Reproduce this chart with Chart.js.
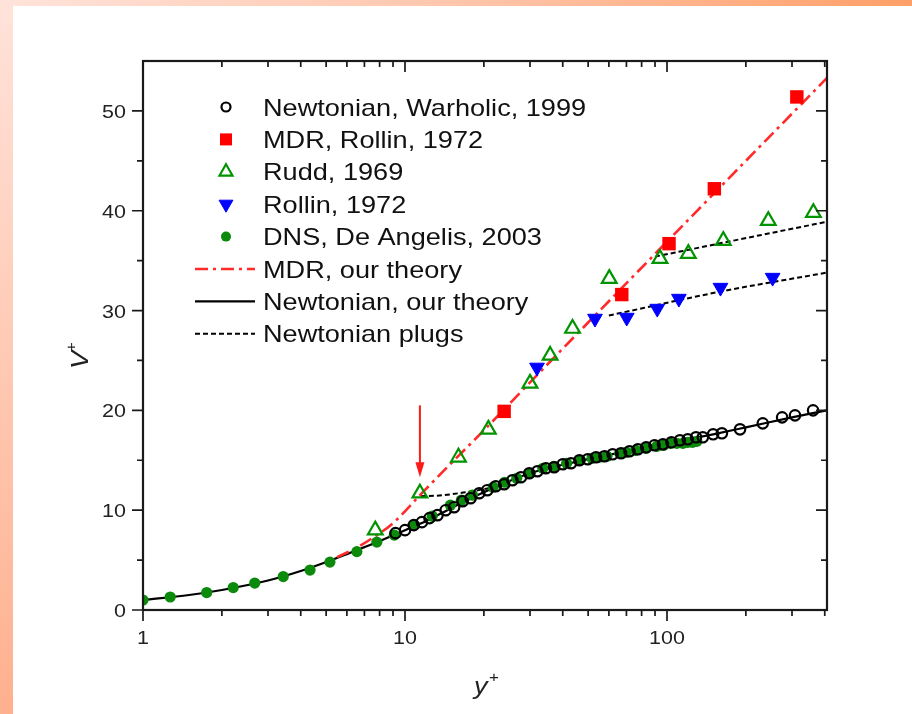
<!DOCTYPE html>
<html>
<head>
<meta charset="utf-8">
<script src="https://cdn.jsdelivr.net/npm/chart.js@4.4.1/dist/chart.umd.min.js"></script>
<style>
  html, body { margin: 0; padding: 0; background: #fff; }
  #wrap { position: relative; width: 912px; height: 714px; overflow: hidden; background: #fff; }
  #topband { position: absolute; left: 0; top: 0; width: 912px; height: 6px;
    background: linear-gradient(to right, #ffe3da, #ffc6ac 50%, #ff9f68); }
  #leftband { position: absolute; left: 0; top: 0; width: 13px; height: 714px;
    background: linear-gradient(to bottom, #ffe3da, #ffb08e); }
  canvas { position: absolute; left: 0; top: 0; }
</style>
</head>
<body>
<div id="wrap">
  <div id="topband"></div>
  <div id="leftband"></div>
  <canvas id="myChart" width="912" height="714"></canvas>
</div>
<script>
// ---- data (x = y+, y = V+) ----
const warholicX = [9.2, 10.0, 10.8, 11.6, 12.4, 13.3, 14.3, 15.4, 16.6, 17.8, 19.2, 20.6, 22.2, 23.9, 25.7, 27.7, 29.8, 32.0, 34.5, 37.1, 40, 43, 46.3, 49.8, 53.6, 57.7, 62, 66.8, 71.9, 77.4, 83.3, 89.6, 96.5, 104, 112, 120, 129, 137, 150, 162, 190, 232, 275, 308, 361];
const warholicV = [7.7, 8.0, 8.5, 8.8, 9.2, 9.5, 10.0, 10.3, 10.9, 11.2, 11.7, 12.0, 12.4, 12.6, 13.0, 13.3, 13.7, 13.9, 14.2, 14.3, 14.6, 14.7, 15.0, 15.1, 15.3, 15.4, 15.6, 15.7, 15.9, 16.1, 16.3, 16.5, 16.6, 16.8, 17.0, 17.1, 17.3, 17.3, 17.6, 17.7, 18.1, 18.7, 19.3, 19.5, 20.0];

const mdrRollinX = [23.9, 67.2, 101.8, 151.6, 313];
const mdrRollinV = [19.9, 31.6, 36.7, 42.2, 51.4];

const ruddX = [7.7, 11.4, 16.0, 20.8, 30.0, 35.8, 43.6, 60.2, 94, 120.6, 164, 243.6, 362];
const ruddV = [8.0, 11.7, 15.3, 18.1, 22.7, 25.5, 28.2, 33.2, 35.2, 35.7, 37.0, 39.0, 39.8];

const rollinX = [31.9, 53.1, 70.2, 91.8, 111, 160, 253];
const rollinV = [24.3, 29.2, 29.3, 30.2, 31.2, 32.3, 33.3];

const dnsX = [1.0, 1.27, 1.75, 2.21, 2.67, 3.43, 4.34, 5.17, 6.55, 7.81, 9.1, 10.8, 12.7, 14.9, 16.4, 18.1, 21.7, 24, 26.7, 30, 33.6, 37, 41.4, 46.6, 51.7, 55, 59, 66, 70, 76, 83, 91.5, 97, 103, 109, 115, 120, 125, 130];
const dnsV = [1.0, 1.3, 1.75, 2.25, 2.7, 3.35, 4.0, 4.8, 5.85, 6.8, 7.5, 8.5, 9.4, 10.5, 11.0, 11.5, 12.3, 12.8, 13.2, 13.7, 14.2, 14.4, 14.7, 15.0, 15.2, 15.3, 15.4, 15.7, 15.8, 16.0, 16.2, 16.4, 16.5, 16.7, 16.7, 16.7, 16.8, 16.8, 16.9];

const mdrTheoryX = [5.5, 6.5, 7.5, 9, 11.5, 15, 20, 30, 50, 100, 200, 408];
const mdrTheoryV = [5.3, 6.2, 7.2, 8.7, 11.6, 14.7, 18.0, 22.8, 28.8, 36.9, 45.0, 53.3];

const newtTheoryX = [1, 1.5, 2, 3, 4, 5, 6, 7, 8, 10, 12, 15, 20, 30, 50, 70, 100, 150, 200, 300, 408];
const newtTheoryV = [1.0, 1.5, 2.0, 2.95, 3.9, 4.8, 5.6, 6.3, 6.9, 8.0, 8.9, 10.2, 11.8, 13.7, 15.1, 15.9, 16.7, 17.6, 18.3, 19.3, 20.0];

// three plug segments, split by null
const plugX = [11.5, 14, 17, 21, 30, 60, 160, 408, 500, 90, 164, 408];
const plugV = [11.4, 11.5, 11.8, 12.2, null, 29.5, 31.9, 33.8, null, 35.4, 36.8, 38.9];

const xMajorTicks = [1, 10, 100];
const xMinorTicks = [2, 3, 4, 5, 6, 7, 8, 9, 20, 30, 40, 50, 60, 70, 80, 90, 200, 300, 400];
const yMajorTicks = [0, 10, 20, 30, 40, 50];
const yMinorTicks = [5, 15, 25, 35, 45];

const arrowX = 11.4, arrowFromV = 20.5, arrowToV = 13.3;

const pts = (xs, ys) => xs.map((x, i) => ({ x: x, y: ys[i] }));

const FONT = '"Liberation Sans", Arial, sans-serif';
const STRETCH = 1.13;

function wideText(ctx, text, x, y, align, size, style) {
  ctx.save();
  ctx.font = (style || '') + ' ' + size + 'px ' + FONT;
  ctx.textAlign = align;
  ctx.textBaseline = 'alphabetic';
  ctx.translate(x, y);
  ctx.scale(STRETCH, 1);
  ctx.fillText(text, 0, 0);
  ctx.restore();
}

// frame, ticks, labels, titles, arrow and legend
const figureDecor = {
  id: 'figureDecor',
  afterDraw(chart) {
    const { ctx, chartArea: { top, bottom, left, right } } = chart;
    const xs = chart.scales.x, ys = chart.scales.y;
    ctx.save();
    ctx.strokeStyle = '#1a1a1a';
    ctx.fillStyle = '#1a1a1a';
    ctx.lineWidth = 2.2;
    ctx.strokeRect(left, top, right - left, bottom - top);

    ctx.lineWidth = 1.7;
    ctx.beginPath();
    xMajorTicks.forEach(v => {
      const px = xs.getPixelForValue(v);
      ctx.moveTo(px, bottom); ctx.lineTo(px, bottom + 11);
      ctx.moveTo(px, top); ctx.lineTo(px, top + 11);
    });
    xMinorTicks.forEach(v => {
      const px = xs.getPixelForValue(v);
      ctx.moveTo(px, bottom); ctx.lineTo(px, bottom + 6);
      ctx.moveTo(px, top); ctx.lineTo(px, top + 6);
    });
    yMajorTicks.forEach(v => {
      const py = ys.getPixelForValue(v);
      ctx.moveTo(left, py); ctx.lineTo(left - 11, py);
      ctx.moveTo(right, py); ctx.lineTo(right - 11, py);
    });
    yMinorTicks.forEach(v => {
      const py = ys.getPixelForValue(v);
      ctx.moveTo(left, py); ctx.lineTo(left - 6, py);
      ctx.moveTo(right, py); ctx.lineTo(right - 6, py);
    });
    ctx.stroke();

    ctx.fillStyle = '#222';
    xMajorTicks.forEach(v => wideText(ctx, String(v), xs.getPixelForValue(v), bottom + 34, 'center', 19));
    yMajorTicks.forEach(v => wideText(ctx, String(v), left - 17, ys.getPixelForValue(v) + 7, 'right', 19));

    // axis titles
    wideText(ctx, 'y', 474, 694, 'left', 24, 'italic');
    wideText(ctx, '+', 489, 682, 'left', 15);
    ctx.save();
    ctx.translate(88, 369);
    ctx.rotate(-Math.PI / 2);
    wideText(ctx, 'V', 0, 0, 'left', 24, 'italic');
    wideText(ctx, '+', 17, -12, 'left', 15);
    ctx.restore();

    // red arrow
    const ax = xs.getPixelForValue(arrowX);
    const ay0 = ys.getPixelForValue(arrowFromV), ay1 = ys.getPixelForValue(arrowToV);
    ctx.strokeStyle = '#ff1a1a';
    ctx.fillStyle = '#ff1a1a';
    ctx.lineWidth = 2;
    ctx.beginPath(); ctx.moveTo(ax, ay0); ctx.lineTo(ax, ay1 - 10); ctx.stroke();
    ctx.beginPath(); ctx.moveTo(ax, ay1); ctx.lineTo(ax - 4.5, ay1 - 15); ctx.lineTo(ax + 4.5, ay1 - 15); ctx.closePath(); ctx.fill();

    // legend
    let rowY = 107;
    chart.data.datasets.forEach(ds => {
      ctx.save();
      if (ds.showLine) {
        ctx.strokeStyle = ds.borderColor;
        ctx.lineWidth = ds.borderWidth;
        ctx.setLineDash(ds.borderDash || []);
        ctx.beginPath(); ctx.moveTo(195, rowY); ctx.lineTo(255, rowY); ctx.stroke();
      } else {
        ctx.fillStyle = ds.backgroundColor;
        ctx.strokeStyle = ds.borderColor;
        ctx.lineWidth = ds.borderWidth;
        Chart.helpers.drawPoint(ctx, {
          pointStyle: ds.pointStyle, rotation: ds.rotation || 0,
          radius: ds.legendRadius, borderWidth: ds.borderWidth
        }, 226, rowY);
      }
      ctx.restore();
      ctx.fillStyle = '#111';
      wideText(ctx, ds.label, 263, rowY + 8.6, 'left', 24);
      rowY += 32.4;
    });
    ctx.restore();
  }
};

const config = {
  type: 'scatter',
  data: {
    datasets: [
      { label: 'Newtonian, Warholic, 1999', data: pts(warholicX, warholicV), pointStyle: 'circle',
        pointRadius: 5.2, legendRadius: 4.5, borderWidth: 2.2, borderColor: '#000', backgroundColor: 'rgba(255,255,255,0)' },
      { label: 'MDR, Rollin, 1972', data: pts(mdrRollinX, mdrRollinV), pointStyle: 'rect',
        pointRadius: 9.5, legendRadius: 8.5, borderWidth: 0, borderColor: '#ff0000', backgroundColor: '#ff0000' },
      { label: 'Rudd, 1969', data: pts(ruddX, ruddV), pointStyle: 'triangle',
        pointRadius: 8.5, legendRadius: 7.5, borderWidth: 2.2, borderColor: '#009400', backgroundColor: 'rgba(255,255,255,0)' },
      { label: 'Rollin, 1972', data: pts(rollinX, rollinV), pointStyle: 'triangle', rotation: 180,
        pointRotation: 180, pointRadius: 8.5, legendRadius: 8, borderWidth: 1, borderColor: '#0000ff', backgroundColor: '#0000ff' },
      { label: 'DNS, De Angelis, 2003', data: pts(dnsX, dnsV), pointStyle: 'circle',
        pointRadius: 5.6, legendRadius: 5, borderWidth: 0, borderColor: '#0b8a0b', backgroundColor: '#0b8a0b' },
      { label: 'MDR, our theory', data: pts(mdrTheoryX, mdrTheoryV), showLine: true, pointRadius: 0,
        borderColor: '#ff2a2a', borderWidth: 2.6, borderDash: [13, 5, 3, 5], cubicInterpolationMode: 'monotone' },
      { label: 'Newtonian, our theory', data: pts(newtTheoryX, newtTheoryV), showLine: true, pointRadius: 0,
        borderColor: '#000', borderWidth: 2.2, cubicInterpolationMode: 'monotone' },
      { label: 'Newtonian plugs', data: pts(plugX, plugV), showLine: true, pointRadius: 0, spanGaps: false,
        borderColor: '#000', borderWidth: 2, borderDash: [5, 3], cubicInterpolationMode: 'monotone' }
    ]
  },
  options: {
    responsive: false,
    animation: false,
    devicePixelRatio: 1,
    layout: { padding: { left: 143, right: 85, top: 61, bottom: 104 } },
    scales: {
      x: { type: 'logarithmic', min: 1, max: 408, display: false },
      y: { type: 'linear', min: 0, max: 55, display: false }
    },
    plugins: { legend: { display: false }, tooltip: { enabled: false } }
  },
  plugins: [figureDecor]
};

const myChart = new Chart(document.getElementById('myChart'), config);
</script>
</body>
</html>
